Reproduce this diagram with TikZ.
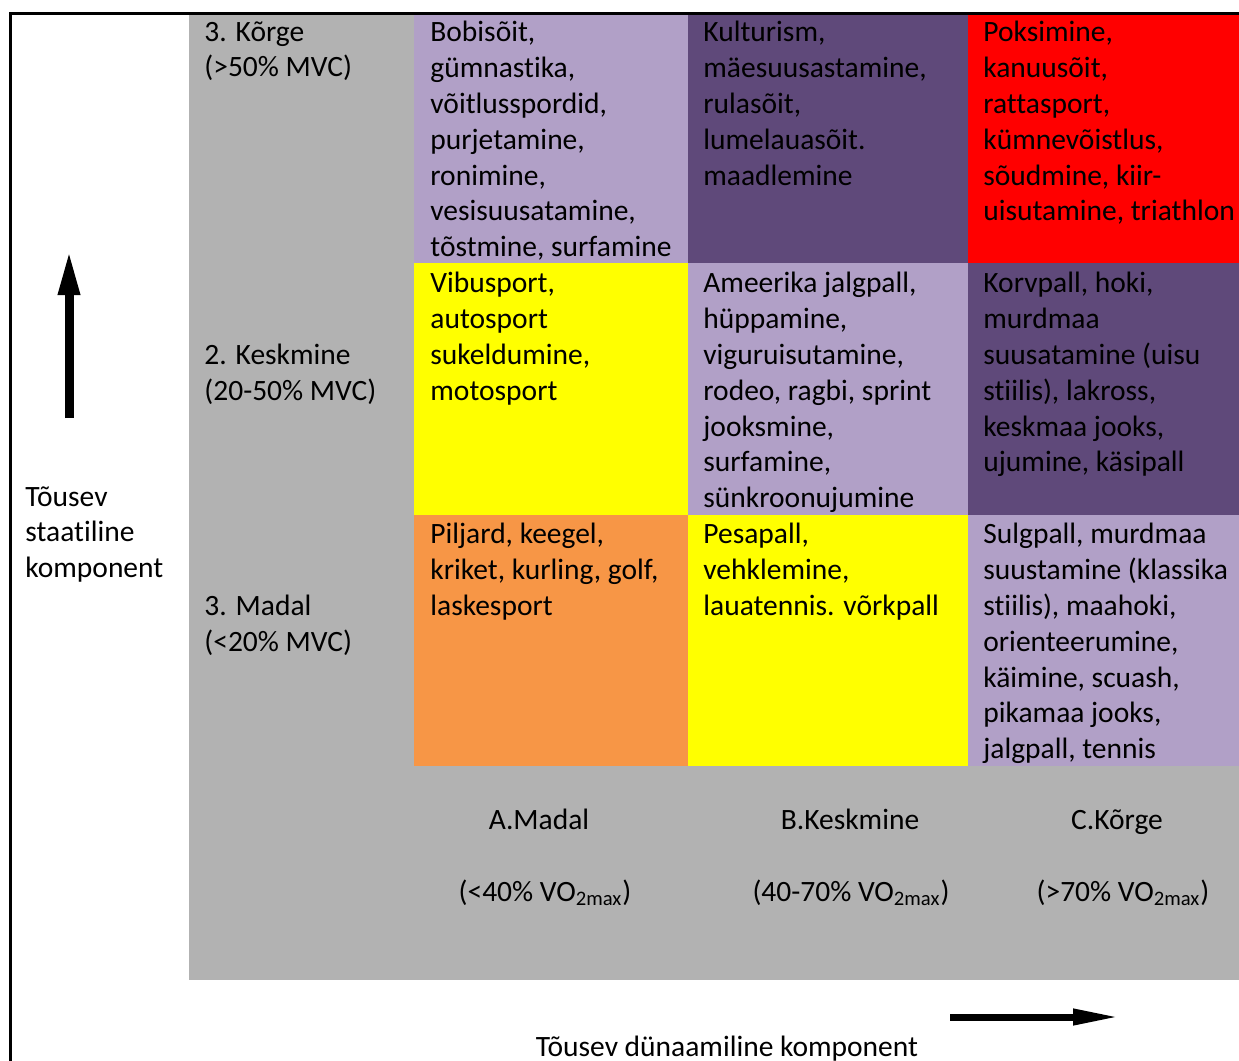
\documentclass[tikz,border=0pt]{standalone}
\usepackage{fontspec}
\setmainfont[Ligatures=NoCommon]{Carlito}
\usepackage{xcolor}
\usepackage{tikz}
\usetikzlibrary{arrows.meta}
\usetikzlibrary{positioning}
\definecolor{lilac}{HTML}{B1A0C7}
\definecolor{plum}{HTML}{5F497A}
\definecolor{sunny}{HTML}{FFFF00}
\definecolor{tangerine}{HTML}{F79646}
\definecolor{panel}{HTML}{B2B2B2}
\tikzset{
	celltext/.style={anchor=north west, align=left, inner sep=0pt, font=\fontsize{14.75}{17.9}\selectfont, execute at begin node=\strut},
	axistext/.style={anchor=base, inner sep=0pt, font=\fontsize{14.75}{17.9}\selectfont},
	bigarrow/.style={-{Triangle[length=22.5pt, width=10pt]}, line width=4.5pt}
}

\begin{document}
\begin{tikzpicture}[x=0.5pt, y=-0.5pt]
		\useasboundingbox (0,0) rectangle (1239,1061);
		%Background and cells
		\fill[panel] (189,13) rectangle (1239,980);
		\fill[lilac] (414,13) rectangle (688,263);
		\fill[plum] (688,13) rectangle (968,263);
		\fill[red] (968,13) rectangle (1239,263);
		\fill[sunny] (414,263) rectangle (688,515);
		\fill[lilac] (688,263) rectangle (968,515);
		\fill[plum] (968,263) rectangle (1239,515);
		\fill[tangerine] (414,515) rectangle (688,766);
		\fill[sunny] (688,515) rectangle (968,766);
		\fill[lilac] (968,515) rectangle (1239,766);
		\draw[line width=1.5pt] (10,1061) -- (10,13) -- (1239,13);
		
		%Static levels
		\node[celltext] at (204,21) (high) {3. Kõrge\\(>50\% MVC)};
		\node[celltext] at (204,344) (mid) {2. Keskmine\\(20-50\% MVC)};
		\node[celltext] at (204,595) (low) {3. Madal\\(<20\% MVC)};
		\node[celltext] at (25,486) (static) {Tõusev\\staatiline\\komponent};
		
		%Row 1
		\node[celltext] at (430,21) (a1) {Bobisõit,\\gümnastika,\\võitlusspordid,\\purjetamine,\\ronimine,\\vesisuusatamine,\\tõstmine, surfamine};
		\node[celltext] at (703,21) (b1) {Kulturism,\\mäesuusastamine,\\rulasõit,\\lumelauasõit.\\maadlemine};
		\node[celltext] at (983,21) (c1) {Poksimine,\\kanuusõit,\\rattasport,\\kümnevõistlus,\\sõudmine, kiir-\\uisutamine, triathlon};
		%Row 2
		\node[celltext] at (430,272) (a2) {Vibusport,\\autosport\\sukeldumine,\\motosport};
		\node[celltext] at (703,272) (b2) {Ameerika jalgpall,\\hüppamine,\\viguruisutamine,\\rodeo, ragbi, sprint\\jooksmine,\\surfamine,\\sünkroonujumine};
		\node[celltext] at (983,272) (c2) {Korvpall, hoki,\\murdmaa\\suusatamine (uisu\\stiilis), lakross,\\keskmaa jooks,\\ujumine, käsipall};
		%Row 3
		\node[celltext] at (430,523) (a3) {Piljard, keegel,\\kriket, kurling, golf,\\laskesport};
		\node[celltext] at (703,523) (b3) {Pesapall,\\vehklemine,\\lauatennis. võrkpall};
		\node[celltext] at (983,523) (c3) {Sulgpall, murdmaa\\suustamine (klassika\\stiilis), maahoki,\\orienteerumine,\\käimine, scuash,\\pikamaa jooks,\\jalgpall, tennis};
		
		%Dynamic levels
		\node[axistext] at (539,829) (lowd) {A.Madal};
		\node[axistext] at (545,901) (lowv) {(<40\% VO\textsubscript{2max})};
		\node[axistext] at (850,829) (midd) {B.Keskmine};
		\node[axistext] at (851,901) (midv) {(40-70\% VO\textsubscript{2max})};
		\node[axistext] at (1117,829) (highd) {C.Kõrge};
		\node[axistext] at (1123,901) (highv) {(>70\% VO\textsubscript{2max})};
		\node[axistext] at (727,1056) (dynamic) {Tõusev dünaamiline komponent};
		
		%Arrows
		\coordinate (upfoot) at (69,418);
		\coordinate (uptip) at (69,250);
		\coordinate (rightfoot) at (950,1017);
		\coordinate (righttip) at (1120,1017);
		\draw[bigarrow] (upfoot) -- (uptip);
		\draw[bigarrow, line width=3.5pt, -{Triangle[length=23.5pt, width=7.5pt]}] (rightfoot) -- (righttip);
	\end{tikzpicture}
\end{document}
